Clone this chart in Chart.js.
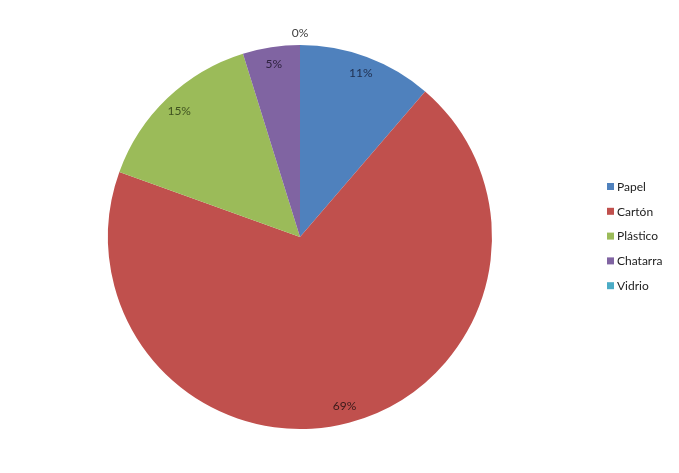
<!DOCTYPE html>
<html>
<head>
<meta charset="utf-8">
<script src="https://cdn.jsdelivr.net/npm/chart.js@4/dist/chart.umd.min.js"></script>
<style>
  html, body { margin: 0; padding: 0; background: #fff; }
  #wrap { width: 679px; height: 473px; }
</style>
</head>
<body>
<div id="wrap"><canvas id="myChart" width="679" height="473"></canvas></div>
<script>
var categories = ['Papel', 'Cartón', 'Plástico', 'Chatarra', 'Vidrio'];
var values = [11.3, 69.2, 14.7, 4.8, 0];
var colors = ['#4F81BD', '#C0504D', '#9BBB59', '#8064A2', '#4BACC6'];
var labelColors = ['#1F2F4F', '#3A1A1A', '#3F5220', '#2F2340', '#404040'];

// percent labels placed like the spreadsheet does
var pctLabels = {
    id: 'pctLabels',
    afterDatasetsDraw: function(chart) {
        var ctx = chart.ctx;
        var meta = chart.getDatasetMeta(0);
        var total = values.reduce(function(a, b) { return a + b; }, 0);
        ctx.save();
        ctx.font = '12px Lato';
        ctx.textAlign = 'center';
        ctx.textBaseline = 'middle';
        meta.data.forEach(function(arc, i) {
            var mid = (arc.startAngle + arc.endAngle) / 2;
            var r = values[i] === 0 ? arc.outerRadius + 12 : arc.outerRadius * 0.91;
            var x = arc.x + Math.cos(mid) * r;
            var y = arc.y + Math.sin(mid) * r;
            ctx.fillStyle = labelColors[i];
            ctx.fillText(Math.round(values[i] / total * 100) + '%', x, y);
        });
        ctx.restore();
    }
};

// legend on the right
var sideLegend = {
    id: 'sideLegend',
    afterDraw: function(chart) {
        var ctx = chart.ctx;
        ctx.save();
        ctx.font = '12px Lato';
        ctx.textBaseline = 'middle';
        categories.forEach(function(c, i) {
            var y = 187 + i * 24.8;
            ctx.fillStyle = colors[i];
            ctx.fillRect(607, y - 4, 7, 7);
            ctx.fillStyle = '#222';
            ctx.fillText(c, 617, y);
        });
        ctx.restore();
    }
};

var ctx = document.getElementById('myChart').getContext('2d');
var chart = new Chart(ctx, {
    type: 'pie',
    data: {
        labels: categories,
        datasets: [{
            data: values,
            backgroundColor: colors,
            borderWidth: 0
        }]
    },
    options: {
        responsive: false,
        animation: false,
        layout: { padding: { left: 0, right: 79, top: 45, bottom: 44 } },
        plugins: {
            legend: { display: false },
            tooltip: { enabled: false }
        }
    },
    plugins: [pctLabels, sideLegend]
});
</script>
</body>
</html>
